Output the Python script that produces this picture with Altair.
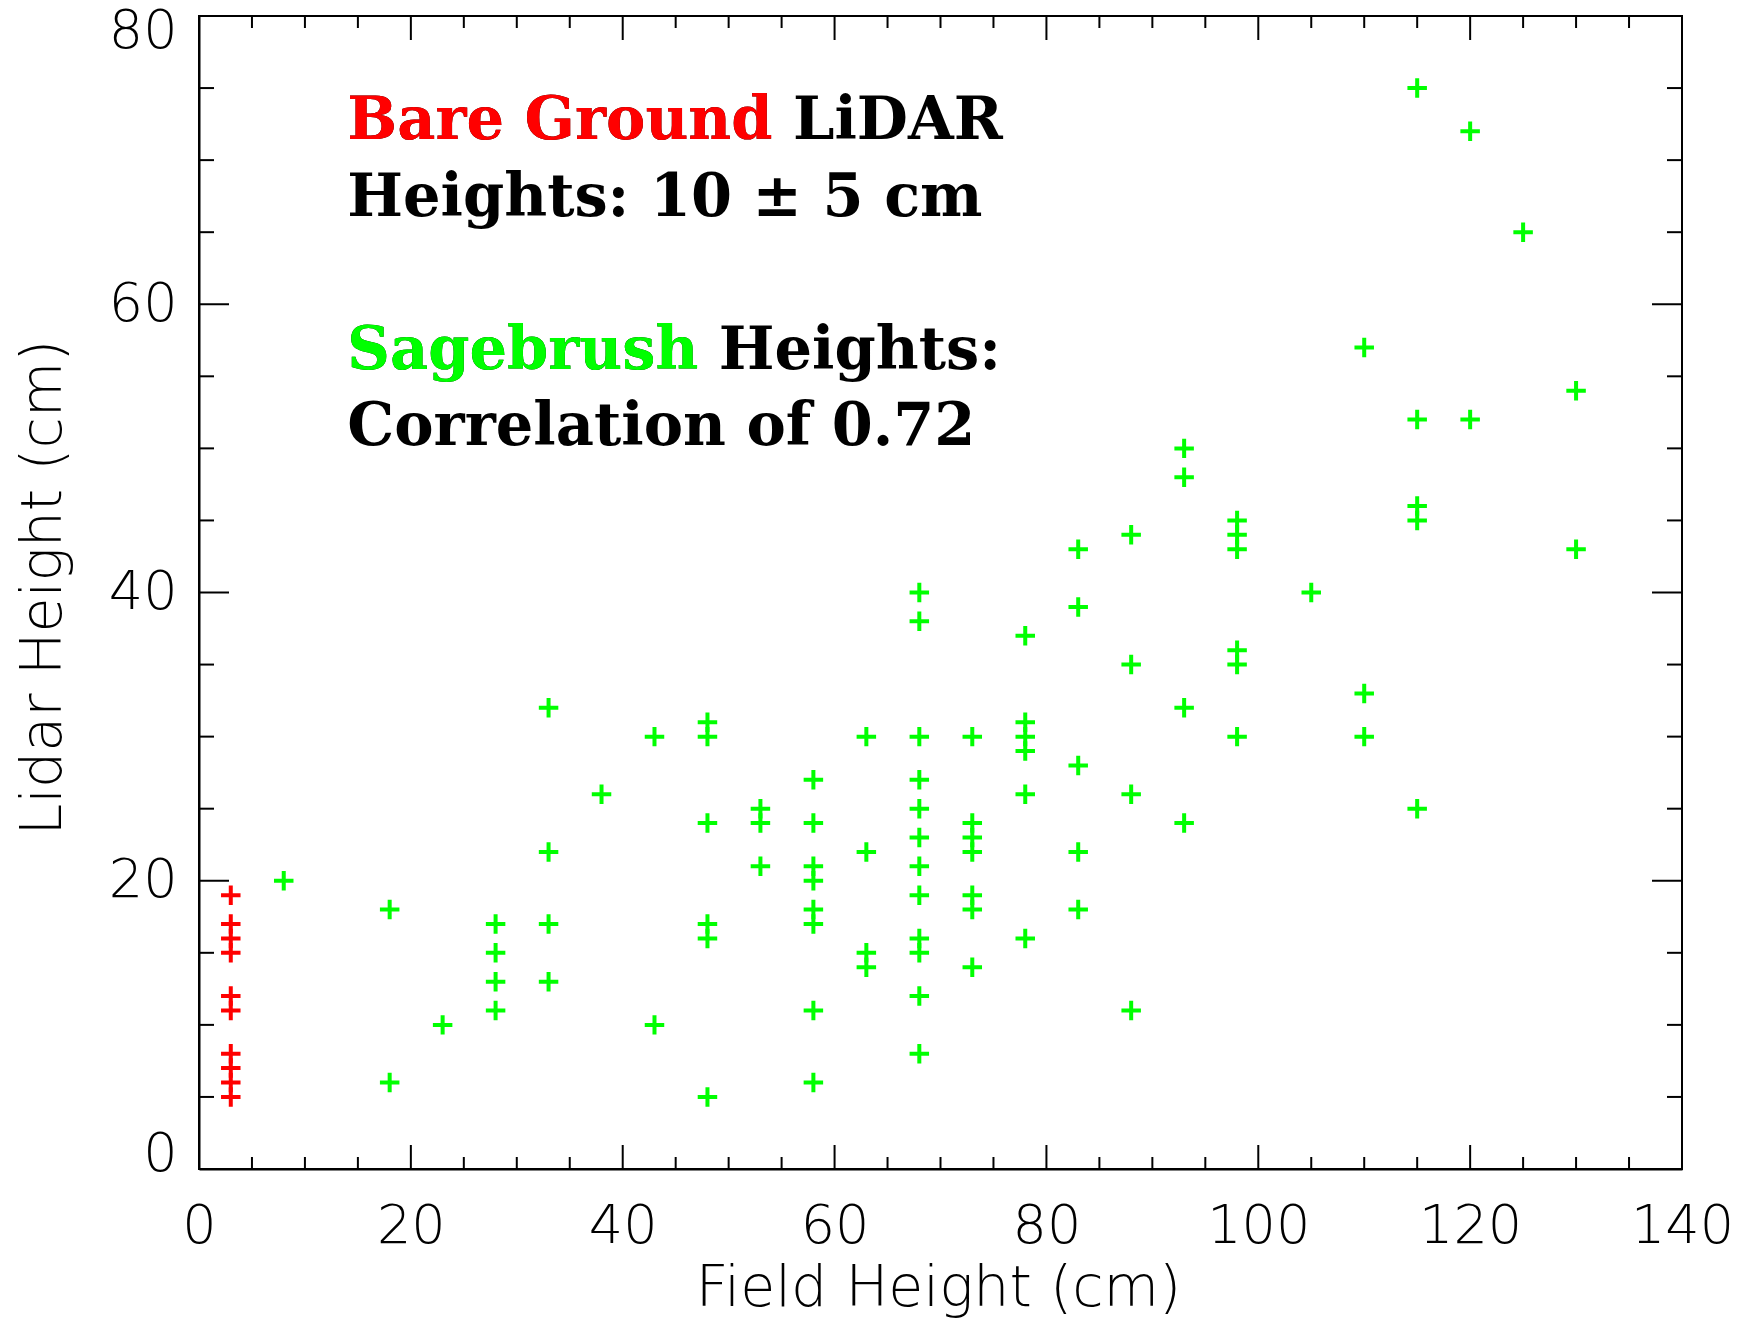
import altair as alt
import pandas as pd

# ---------------- data ----------------
bare_x = [3, 3, 3, 3, 3, 3, 3, 3, 3, 3]
bare_y = [19, 17, 16, 15, 12, 11, 8, 7, 6, 5]

sage_x = [8,
          18, 18,
          23,
          28, 28, 28, 28,
          33, 33, 33, 33,
          38,
          43, 43,
          48, 48, 48, 48, 48, 48,
          53, 53, 53,
          58, 58, 58, 58, 58, 58, 58, 58,
          63, 63, 63, 63,
          68, 68, 68, 68, 68, 68, 68, 68, 68, 68, 68, 68,
          73, 73, 73, 73, 73, 73, 73,
          78, 78, 78, 78, 78, 78,
          83, 83, 83, 83, 83,
          88, 88, 88, 88,
          93, 93, 93, 93,
          98, 98, 98, 98, 98, 98,
          105,
          110, 110, 110,
          115, 115, 115, 115, 115,
          120, 120,
          125,
          130, 130]
sage_y = [20,
          18, 6,
          10,
          17, 15, 13, 11,
          32, 22, 17, 13,
          26,
          30, 10,
          31, 30, 24, 17, 16, 5,
          25, 24, 21,
          27, 24, 21, 20, 18, 17, 11, 6,
          30, 22, 15, 14,
          40, 38, 30, 27, 25, 23, 21, 19, 16, 15, 12, 8,
          30, 24, 23, 22, 19, 18, 14,
          37, 31, 30, 29, 26, 16,
          43, 39, 28, 22, 18,
          44, 35, 26, 11,
          50, 48, 32, 24,
          45, 44, 43, 36, 35, 30,
          40,
          57, 33, 30,
          75, 52, 46, 45, 25,
          72, 52,
          65,
          54, 43]

x_labels = [0, 20, 40, 60, 80, 100, 120, 140]
y_labels = [0, 20, 40, 60, 80]
x_minor = [5, 10, 15, 25, 30, 35, 45, 50, 55, 65, 70, 75, 85, 90, 95, 105, 110, 115, 125, 130, 135]
y_minor = [5, 10, 15, 25, 30, 35, 45, 50, 55, 65, 70, 75]
x_major = [20, 40, 60, 80, 100, 120]
y_major = [20, 40, 60]

ann_text = ["Bare Ground LiDAR", "Bare Ground",
            "Heights: 10 \u00b1 5 cm",
            "Sagebrush Heights:", "Sagebrush",
            "Correlation of 0.72"]
ann_x = [14, 14, 14, 14, 14, 14]
ann_y = [71.5, 71.5, 66.1, 55.5, 55.5, 50.2]
ann_color = ["#000000", "#ff0000", "#000000", "#000000", "#00ff00", "#000000"]

# ---------------- layout ----------------
W, H = 1483, 1153
LABEL_FONT = "DejaVu Sans"
FS = 54
TFS = 57

pts = pd.DataFrame({
    "x": bare_x + sage_x,
    "y": bare_y + sage_y,
    "g": ["bare"] * len(bare_x) + ["sage"] * len(sage_x),
})
ann = pd.DataFrame({"text": ann_text, "x": ann_x, "y": ann_y, "c": ann_color})

xscale = alt.Scale(domain=[0, 140], nice=False, zero=False)
yscale = alt.Scale(domain=[0, 80], nice=False, zero=False)

xaxis = alt.Axis(
    values=x_labels, format="d", grid=False, ticks=False, tickSize=0,
    domain=True, domainColor="black", domainWidth=2,
    labelFont=LABEL_FONT, labelFontSize=FS, labelFontWeight=200, labelColor="black",
    labelBaseline="alphabetic", labelPadding=73, labelFlush=False, labelOverlap=False,
    title="Field Height (cm)", titleFont=LABEL_FONT, titleFontSize=TFS,
    titleFontWeight=200, titleColor="black", titleX=739, titleY=136,
    titleBaseline="alphabetic", titleAlign="center",
)
yaxis = alt.Axis(
    values=y_labels, format="d", grid=False, ticks=False, tickSize=0,
    domain=True, domainColor="black", domainWidth=2,
    labelFont=LABEL_FONT, labelFontSize=FS, labelFontWeight=200, labelColor="black",
    labelAlign="right", labelPadding=22,
    labelFlush=True, labelFlushOffset=12, labelOverlap=False,
    title="Lidar Height (cm)", titleFont=LABEL_FONT, titleFontSize=TFS,
    titleFontWeight=200, titleColor="black", titleAngle=270,
    titleX=-139, titleY=571, titleBaseline="alphabetic", titleAlign="center",
)

points = alt.Chart(pts).mark_point(
    shape="M-1,0H1M0,-1V1", filled=False, strokeWidth=4, size=380, opacity=1
).encode(
    x=alt.X("x:Q", scale=xscale, axis=xaxis),
    y=alt.Y("y:Q", scale=yscale, axis=yaxis),
    color=alt.Color("g:N", scale=alt.Scale(domain=["bare", "sage"],
                                           range=["#ff0000", "#00ff00"]), legend=None),
)


def xticks(vals, length, top):
    df = pd.DataFrame({"t": vals})
    if top:
        y1, y2 = 0, length
    else:
        y1, y2 = H, H - length
    return alt.Chart(df).mark_rule(color="black", strokeWidth=2).encode(
        x=alt.X("t:Q", scale=xscale, axis=xaxis),
        y=alt.value(y1), y2=alt.value(y2),
    )


def yticks(vals, length, right):
    df = pd.DataFrame({"t": vals})
    if right:
        x1, x2 = W, W - length
    else:
        x1, x2 = 0, length
    return alt.Chart(df).mark_rule(color="black", strokeWidth=2).encode(
        y=alt.Y("t:Q", scale=yscale, axis=yaxis),
        x=alt.value(x1), x2=alt.value(x2),
    )


tick_layers = [
    xticks(x_minor, 12, False), xticks(x_major, 24, False),
    xticks(x_minor, 12, True), xticks(x_major, 24, True),
    yticks(y_minor, 15, False), yticks(y_major, 30, False),
    yticks(y_minor, 15, True), yticks(y_major, 30, True),
]

texts = alt.Chart(ann).mark_text(
    font="DejaVu Serif", fontWeight="bold", fontSize=59,
    align="left", baseline="alphabetic"
).encode(
    x=alt.X("x:Q", scale=xscale, axis=xaxis),
    y=alt.Y("y:Q", scale=yscale, axis=yaxis),
    text="text:N",
    color=alt.Color("c:N", scale=None),
)

chart = alt.layer(points, *tick_layers, texts).properties(
    width=W, height=H,
    autosize=alt.AutoSizeParams(type="none"),
    padding={"left": 199, "top": 16, "right": 56, "bottom": 151},
    background="white",
).configure_view(stroke="black", strokeWidth=2)

chart.save("out.html", embed_options={"renderer": "svg", "actions": False})
